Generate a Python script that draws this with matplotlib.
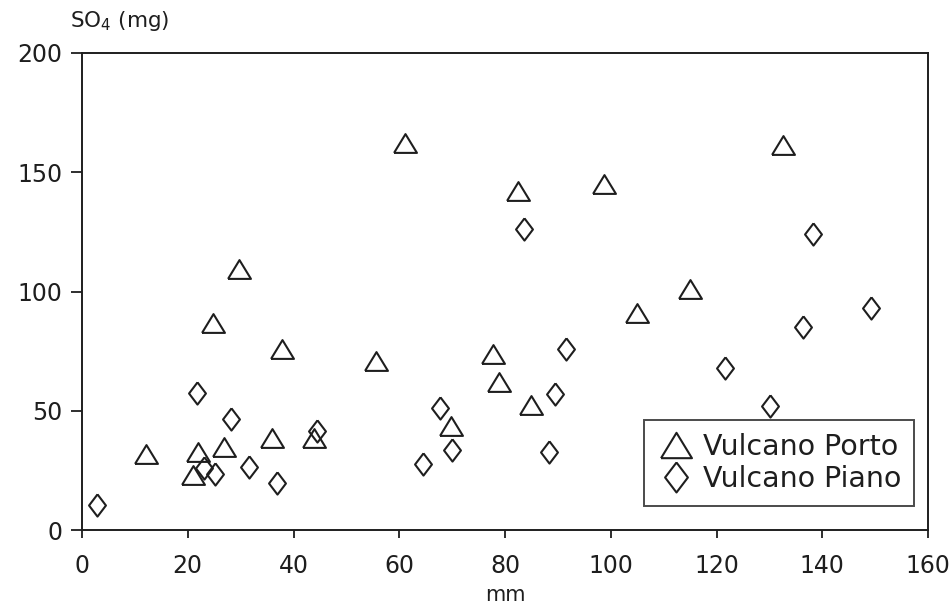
import matplotlib
matplotlib.use("Agg")
import matplotlib.pyplot as plt

plt.rcParams['font.family'] = ['DejaVu Sans']

porto_x = [12.1, 21.0, 21.9, 26.8, 24.8, 29.7, 35.9, 37.8, 43.9, 55.6,
           61.1, 69.8, 77.7, 78.8, 82.4, 84.9, 98.7, 105.0, 115.0, 132.5]
porto_y = [32.0, 23.0, 32.6, 34.7, 87.0, 109.6, 38.5, 75.7, 38.5, 71.0,
           162.3, 43.5, 73.6, 62.0, 142.0, 52.5, 145.0, 91.0, 101.0, 161.5]

piano_x = [2.8, 21.7, 23.0, 25.1, 28.2, 31.6, 36.9, 44.4, 64.5, 67.7,
           70.0, 83.6, 88.3, 89.4, 91.5, 121.7, 130.2, 136.3, 138.2, 149.2]
piano_y = [10.5, 57.3, 26.0, 23.4, 46.4, 26.4, 19.7, 41.4, 27.6, 51.0,
           33.5, 126.0, 32.6, 57.0, 76.0, 68.0, 52.0, 85.0, 124.0, 93.0]

x_ticks = [0, 20, 40, 60, 80, 100, 120, 140, 160]
y_ticks = [0, 50, 100, 150, 200]

W, H = 952, 607
fig = plt.figure(figsize=(W / 100, H / 100), dpi=100)
ax = fig.add_axes([82 / W, 1 - 530 / H, (928 - 82) / W, (530 - 53) / H])

ink = '#1e1e1e'
tri = [(-1, -0.82), (1, -0.82), (0, 0.82), (-1, -0.82)]
dia = [(0, 1), (0.76, 0), (0, -1), (-0.76, 0), (0, 1)]

ax.plot(porto_x, porto_y, linestyle='none', marker=tri, markersize=16.5,
        markerfacecolor='none', markeredgecolor=ink, markeredgewidth=1.5,
        label='Vulcano Porto', clip_on=False)
ax.plot(piano_x, piano_y, linestyle='none', marker=dia, markersize=16,
        markerfacecolor='none', markeredgecolor=ink, markeredgewidth=1.5,
        label='Vulcano Piano', clip_on=False)

ax.set_xlim(0, 160)
ax.set_ylim(0, 200)
ax.set_xticks(x_ticks)
ax.set_yticks(y_ticks)
ax.tick_params(axis='both', direction='out', labelsize=17, color=ink,
               labelcolor=ink, width=1.3)
ax.tick_params(axis='y', length=8, pad=6)
ax.tick_params(axis='x', length=6, pad=11)
for s in ax.spines.values():
    s.set_linewidth(1.4)
    s.set_color(ink)

ax.set_xlabel('mm', fontsize=15, color=ink, labelpad=5)
fig.text(70 / W, 1 - 21 / H, 'SO$_4$ (mg)', fontsize=15.5, color=ink,
         va='center', ha='left')

leg = ax.legend(loc='lower right', bbox_to_anchor=(914 / W, 1 - 506 / H),
                bbox_transform=fig.transFigure, fontsize=20.5, frameon=True,
                fancybox=False, edgecolor=ink, handlelength=1.3,
                handletextpad=0.3, borderpad=0.45, labelspacing=0.15,
                borderaxespad=0, markerscale=1.35)
leg.get_frame().set_linewidth(1.4)
for t in leg.get_texts():
    t.set_color(ink)

fig.savefig('out.png', dpi=100)
